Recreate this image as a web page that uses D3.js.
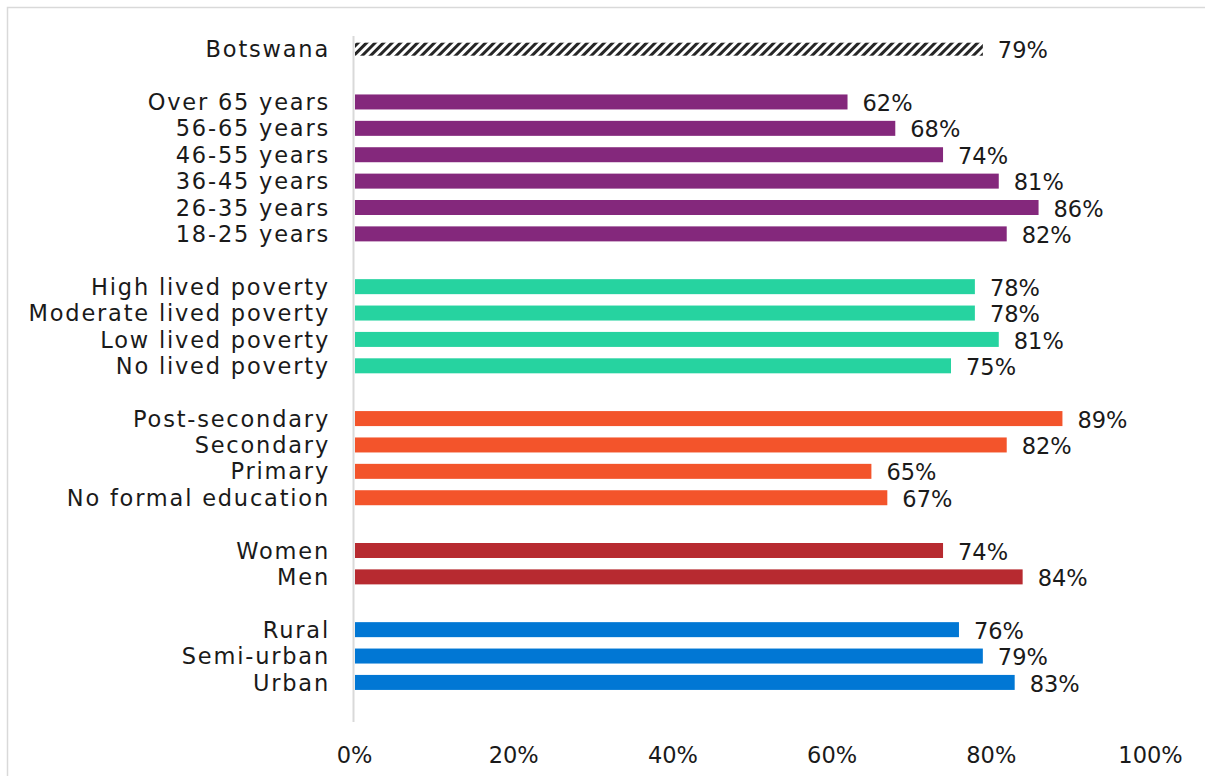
<!DOCTYPE html>
<html>
<head>
<meta charset="utf-8">
<script src="https://cdn.jsdelivr.net/npm/d3@7"></script>
<style>
  html, body { margin: 0; padding: 0; background: #fff; }
  svg { display: block; }
  text { font-family: "DejaVu Sans", "Lato", sans-serif; fill: #1a1a1a; font-size: 22.5px; }
  .cat { letter-spacing: 1.8px; }
</style>
</head>
<body>
<svg id="chart" width="1205" height="776"></svg>
<script>
// Share of respondents, by group (percent)
const nationalLabels = ["Botswana"];
const nationalValues = [79];

const ageLabels = ["Over 65 years", "56-65 years", "46-55 years", "36-45 years", "26-35 years", "18-25 years"];
const ageValues = [62, 68, 74, 81, 86, 82];

const povertyLabels = ["High lived poverty", "Moderate lived poverty", "Low lived poverty", "No lived poverty"];
const povertyValues = [78, 78, 81, 75];

const educationLabels = ["Post-secondary", "Secondary", "Primary", "No formal education"];
const educationValues = [89, 82, 65, 67];

const genderLabels = ["Women", "Men"];
const genderValues = [74, 84];

const locationLabels = ["Rural", "Semi-urban", "Urban"];
const locationValues = [76, 79, 83];

const tickValues = [0, 20, 40, 60, 80, 100];

const groups = [
  { key: "national", labels: nationalLabels, values: nationalValues, color: "url(#hatch)" },
  { key: "age", labels: ageLabels, values: ageValues, color: "#84287c" },
  { key: "poverty", labels: povertyLabels, values: povertyValues, color: "#26d3a0" },
  { key: "education", labels: educationLabels, values: educationValues, color: "#f3542b" },
  { key: "gender", labels: genderLabels, values: genderValues, color: "#b72a30" },
  { key: "location", labels: locationLabels, values: locationValues, color: "#0177d4" }
];

// Flatten into rows, with an empty slot after each group
const rows = [];
const slots = [];
groups.forEach((g, gi) => {
  g.labels.forEach((label, i) => {
    const id = g.key + "-" + i;
    rows.push({ id, label, value: g.values[i], color: g.color, national: g.key === "national" });
    slots.push(id);
  });
  slots.push("gap-" + gi);
});

const svg = d3.select("#chart");

// Hatch pattern for the national bar
const defs = svg.append("defs");
const pat = defs.append("pattern")
  .attr("id", "hatch")
  .attr("patternUnits", "userSpaceOnUse")
  .attr("width", 6).attr("height", 6)
  .attr("patternTransform", "rotate(45)");
pat.append("rect").attr("width", 6).attr("height", 6).attr("fill", "#fff");
pat.append("rect").attr("width", 3).attr("height", 6).attr("fill", "#262626");

// Frame
svg.append("rect")
  .attr("x", 7.5).attr("y", 7.5)
  .attr("width", 1220).attr("height", 800)
  .attr("fill", "none")
  .attr("stroke", "#d9d9d9")
  .attr("stroke-width", 1.5);

const x = d3.scaleLinear().domain([0, 100]).range([354, 1150]);
const y = d3.scaleBand().domain(slots).range([36, 722]).paddingInner(0).paddingOuter(0);

const barH = 15;

// Category axis line
svg.append("line")
  .attr("x1", x(0) - 0.5).attr("x2", x(0) - 0.5)
  .attr("y1", y.range()[0]).attr("y2", y.range()[1])
  .attr("stroke", "#d9d9d9")
  .attr("stroke-width", 2);

// Bars
svg.append("g").selectAll("rect")
  .data(rows)
  .join("rect")
  .attr("x", x(0) + 1)
  .attr("y", d => y(d.id) + y.bandwidth() / 2 - (d.national ? 13 : barH) / 2)
  .attr("width", d => x(d.value) - x(0) - 1)
  .attr("height", d => d.national ? 13 : barH)
  .attr("fill", d => d.color);

// Category labels
svg.append("g").selectAll("text")
  .data(rows)
  .join("text")
  .attr("class", "cat")
  .attr("x", x(0) - 24)
  .attr("y", d => y(d.id) + y.bandwidth() / 2)
  .attr("dy", "0.36em")
  .attr("text-anchor", "end")
  .text(d => d.label);

// Value labels
svg.append("g").selectAll("text")
  .data(rows)
  .join("text")
  .attr("class", "val")
  .attr("x", d => x(d.value) + 15)
  .attr("y", d => y(d.id) + y.bandwidth() / 2 + 1)
  .attr("dy", "0.36em")
  .text(d => d.value + "%");

// Value axis
const axis = d3.axisBottom(x)
  .tickValues(tickValues)
  .tickFormat(d => d + "%")
  .tickSize(0)
  .tickPadding(0);

const ag = svg.append("g")
  .attr("transform", "translate(0,755)")
  .call(axis);
ag.select(".domain").remove();
ag.selectAll("text")
  .attr("dy", "0.36em")
  .attr("font-size", null)
  .attr("font-family", null)
  .attr("fill", "#1a1a1a");
</script>
</body>
</html>
